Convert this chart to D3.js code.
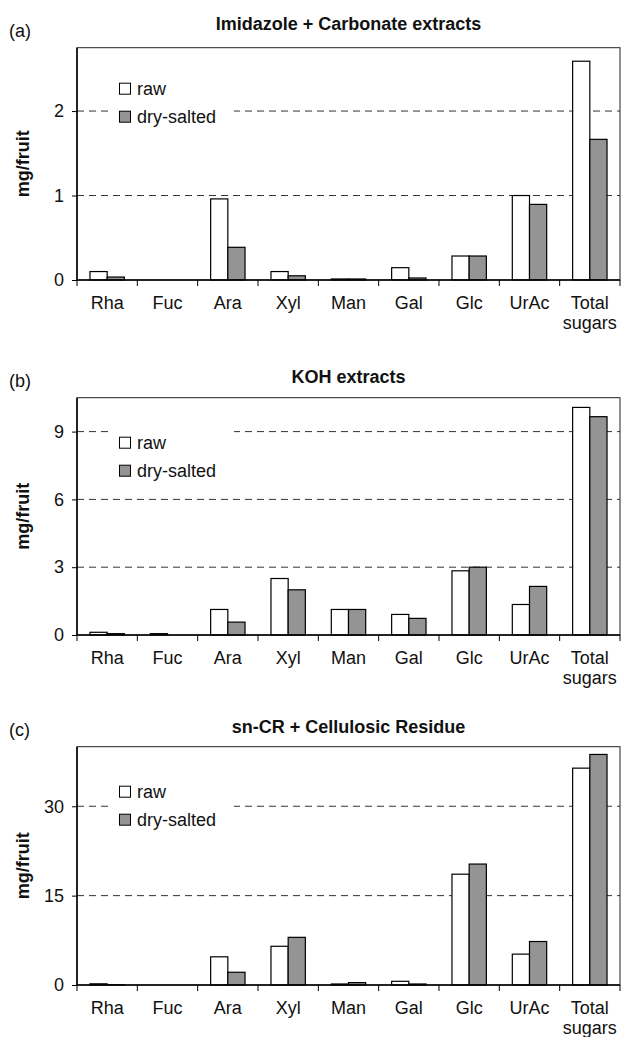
<!DOCTYPE html>
<html>
<head>
<meta charset="utf-8">
<script src="https://cdn.jsdelivr.net/npm/d3@7"></script>
<style>
  body { margin: 0; background: #fff; }
  text { font-family: "Liberation Sans", Arial, Helvetica, sans-serif; fill: #111; }
</style>
</head>
<body>
<div id="chart"></div>
<script>
// sugar categories (x axis)
const sugars = ["Rha", "Fuc", "Ara", "Xyl", "Man", "Gal", "Glc", "UrAc", "Total sugars"]
const seriesNames = ["raw", "dry-salted"]

// (a) imidazole + carbonate extracts, mg/fruit
const imidRaw = [0.10, 0, 0.96, 0.10, 0.012, 0.146, 0.284, 1.00, 2.59]
const imidDry = [0.035, 0, 0.387, 0.05, 0.012, 0.024, 0.284, 0.895, 1.665]
const imidTicks = [0, 1, 2]

// (b) KOH extracts
const kohRaw = [0.12, 0.06, 1.13, 2.50, 1.13, 0.91, 2.84, 1.35, 10.07]
const kohDry = [0.06, 0, 0.57, 2.00, 1.13, 0.735, 3.00, 2.15, 9.66]
const kohTicks = [0, 3, 6, 9]

// (c) sn-CR + cellulosic residue
const cellRaw = [0.2, 0, 4.73, 6.5, 0.17, 0.62, 18.6, 5.18, 36.4]
const cellDry = [0.05, 0, 2.14, 8.0, 0.4, 0.17, 20.3, 7.3, 38.7]
const cellTicks = [0, 15, 30]

const width = 623, height = 1037
const left = 77, right = 620

const svg = d3.select("#chart").append("svg")
    .attr("width", width)
    .attr("height", height)

const x = d3.scaleBand().domain(sugars).range([left, right]).padding(0)
const barW = x.bandwidth() * 0.285
const colors = ["#ffffff", "#949494"]

function panel(cfg) {
    const y = d3.scaleLinear().domain([0, cfg.max]).range([cfg.bottom, cfg.top])
    const g = svg.append("g")

    // panel letter + title
    g.append("text").attr("x", 9).attr("y", cfg.top - 17 + 6)
        .attr("font-size", 18).text(cfg.letter)
    g.append("text").attr("x", (left + right) / 2).attr("y", cfg.titleY + 6)
        .attr("text-anchor", "middle").attr("font-size", 18).attr("font-weight", "bold")
        .text(cfg.title)

    // dashed gridlines
    g.append("g").selectAll("line")
        .data(cfg.ticks.filter(d => d > 0))
        .join("line")
        .attr("x1", left).attr("x2", right)
        .attr("y1", d => y(d)).attr("y2", d => y(d))
        .attr("stroke", "#333").attr("stroke-width", 1)
        .attr("stroke-dasharray", "7,5")

    // legend (white box hides grid)
    const lg = g.append("g").attr("transform", `translate(0,${cfg.top})`)
    lg.append("rect").attr("x", 109).attr("y", cfg.legendY - 14)
        .attr("width", 125).attr("height", 57).attr("fill", "#fff")
    seriesNames.forEach((s, i) => {
        const cy = cfg.legendY + i * 28
        lg.append("rect").attr("x", 119.5).attr("y", cy - 5.5)
            .attr("width", 11).attr("height", 11)
            .attr("fill", colors[i]).attr("stroke", "#000").attr("stroke-width", 1)
        lg.append("text").attr("x", 137).attr("y", cy).attr("dy", "0.35em")
            .attr("font-size", 18).text(s)
    })

    // bars
    const series = [cfg.raw, cfg.dry]
    series.forEach((vals, si) => {
        g.append("g").selectAll("rect")
            .data(vals.map((v, i) => ({ cat: sugars[i], v: v })).filter(d => d.v > 0))
            .join("rect")
            .attr("x", d => x(d.cat) + x.bandwidth() / 2 - barW + si * barW)
            .attr("y", d => y(d.v))
            .attr("width", barW)
            .attr("height", d => y(0) - y(d.v))
            .attr("fill", colors[si])
            .attr("stroke", "#000").attr("stroke-width", 1.2)
    })

    // plot box
    g.append("rect").attr("x", left).attr("y", cfg.top)
        .attr("width", right - left).attr("height", cfg.bottom - cfg.top)
        .attr("fill", "none").attr("stroke", "#222").attr("stroke-width", 1)

    // y axis
    const yAxis = d3.axisLeft(y).tickValues(cfg.ticks).tickFormat(d3.format("d"))
        .tickSize(5).tickPadding(8)
    const ya = g.append("g").attr("transform", `translate(${left},0)`).call(yAxis)
    ya.select(".domain").attr("stroke", "#000").attr("stroke-width", 1.5)
        .attr("d", `M0,${cfg.top}V${cfg.bottom}`)
    ya.selectAll(".tick line").attr("stroke", "#000")
    ya.selectAll(".tick text").attr("font-size", 18)
        .attr("font-family", "Liberation Sans, Arial, sans-serif").attr("fill", "#111")

    // x axis line + boundary ticks
    g.append("line").attr("x1", left).attr("x2", right)
        .attr("y1", cfg.bottom).attr("y2", cfg.bottom)
        .attr("stroke", "#000").attr("stroke-width", 1.5)
    const bounds = sugars.map(s => x(s)).concat([right])
    g.append("g").selectAll("line").data(bounds).join("line")
        .attr("x1", d => d).attr("x2", d => d)
        .attr("y1", cfg.bottom).attr("y2", cfg.bottom + 6)
        .attr("stroke", "#000").attr("stroke-width", 1)

    // x labels
    const lab = g.append("g").selectAll("text").data(sugars).join("text")
        .attr("x", d => x(d) + x.bandwidth() / 2)
        .attr("y", cfg.bottom + 29)
        .attr("text-anchor", "middle").attr("font-size", 18)
    lab.each(function(d) {
        const words = d.split(" ")
        d3.select(this).selectAll("tspan").data(words).join("tspan")
            .attr("x", x(d) + x.bandwidth() / 2)
            .attr("dy", (w, i) => i === 0 ? 0 : 20)
            .text(w => w)
    })

    // y label
    g.append("text")
        .attr("transform", `translate(29,${(cfg.top + cfg.bottom) / 2}) rotate(-90)`)
        .attr("text-anchor", "middle").attr("font-size", 18).attr("font-weight", "bold")
        .text("mg/fruit")
}

panel({ letter: "(a)", title: "Imidazole + Carbonate extracts", titleY: 24,
        top: 47.7, bottom: 280, max: 2.75, ticks: imidTicks,
        raw: imidRaw, dry: imidDry, legendY: 41 })
panel({ letter: "(b)", title: "KOH extracts", titleY: 377,
        top: 397.7, bottom: 635, max: 10.5, ticks: kohTicks,
        raw: kohRaw, dry: kohDry, legendY: 45 })
panel({ letter: "(c)", title: "sn-CR + Cellulosic Residue", titleY: 727,
        top: 746.7, bottom: 985, max: 40, ticks: cellTicks,
        raw: cellRaw, dry: cellDry, legendY: 45 })
</script>
</body>
</html>
